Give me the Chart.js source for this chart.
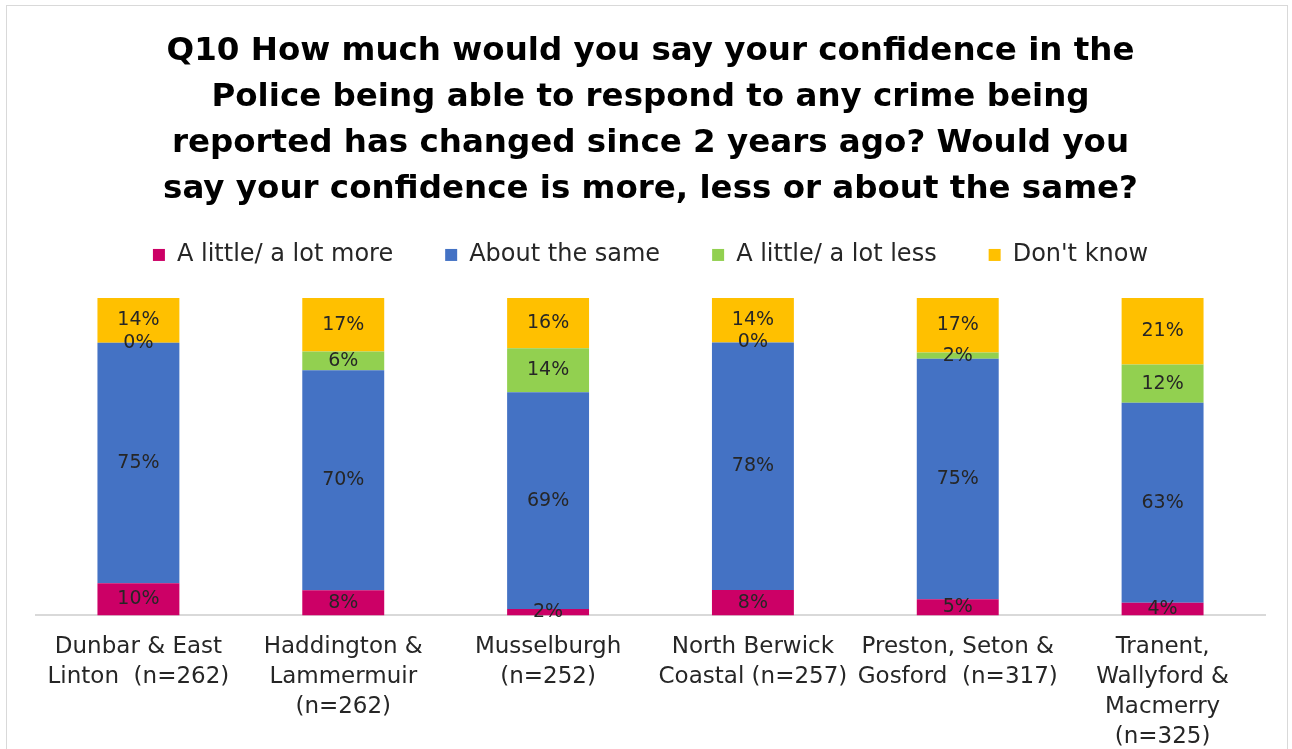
<!DOCTYPE html>
<html>
<head>
<meta charset="utf-8">
<script src="https://cdn.jsdelivr.net/npm/chart.js@4"></script>
<style>
  html, body { margin: 0; padding: 0; background: #fff; overflow: hidden; }
  #frame {
    position: absolute; left: 6px; top: 5px; width: 1282px; height: 800px;
    border: 1px solid #d9d9d9; box-sizing: border-box;
  }
  #wrap { position: absolute; left: 0; top: 0; width: 1280px; height: 798px; }
</style>
</head>
<body>
<div id="frame"><div id="wrap"><canvas id="chart"></canvas></div></div>
<script>
// Areas and sample sizes
const areas = [
    ['Dunbar & East', 'Linton  (n=262)'],
    ['Haddington &', 'Lammermuir', '(n=262)'],
    ['Musselburgh', '(n=252)'],
    ['North Berwick', 'Coastal (n=257)'],
    ['Preston, Seton &', 'Gosford  (n=317)'],
    ['Tranent,', 'Wallyford &', 'Macmerry', '(n=325)']
];

// Percentages per answer
const more     = [10, 8, 2, 8, 5, 4];
const same     = [75, 70, 69, 78, 75, 63];
const less     = [0, 6, 14, 0, 2, 12];
const dontKnow = [14, 17, 16, 14, 17, 21];

const seriesNames = ['A little/ a lot more', 'About the same', 'A little/ a lot less', "Don't know"];
const seriesColors = ['#CC0066', '#4472C4', '#92D050', '#FFC000'];

const titleLines = [
    'Q10 How much would you say your confidence in the',
    'Police being able to respond to any crime being',
    'reported has changed since 2 years ago? Would you',
    'say your confidence is more, less or about the same?'
];

// 100% stacked: scale each column to its own total
const raw = [more, same, less, dontKnow];
const totals = areas.map((a, i) => raw.reduce((s, arr) => s + arr[i], 0));

const datasets = raw.map((arr, k) => ({
    label: seriesNames[k],
    data: arr.map((v, i) => v / totals[i] * 100),
    rawValues: arr,
    backgroundColor: seriesColors[k],
    borderWidth: 0,
    barPercentage: 1,
    categoryPercentage: 0.4
}));

// Segment labels
const segmentLabels = {
    id: 'segmentLabels',
    afterDatasetsDraw(chart) {
        const ctx = chart.ctx;
        ctx.save();
        ctx.font = '19px "DejaVu Sans"';
        ctx.fillStyle = '#262626';
        ctx.textAlign = 'center';
        ctx.textBaseline = 'middle';
        chart.data.datasets.forEach((ds, k) => {
            chart.getDatasetMeta(k).data.forEach((bar, i) => {
                const p = bar.getCenterPoint();
                ctx.fillText(ds.rawValues[i] + '%', p.x, p.y);
            });
        });
        ctx.restore();
    }
};

// Extra room under the legend
const legendGap = {
    id: 'legendGap',
    beforeUpdate(chart) {
        const lg = chart.legend;
        if (lg && !lg._gapPatched) {
            const fit = lg.fit;
            lg.fit = function () { fit.call(this); this.height += 21; };
            lg._gapPatched = true;
        }
    }
};

new Chart(document.getElementById('chart'), {
    type: 'bar',
    data: { labels: areas, datasets: datasets },
    plugins: [segmentLabels, legendGap],
    options: {
        responsive: true,
        maintainAspectRatio: false,
        animation: false,
        layout: { padding: { left: 29, right: 22, top: 23, bottom: 43 } },
        scales: {
            x: {
                stacked: true,
                grid: { display: false },
                border: { display: true, color: '#d9d9d9', width: 2 },
                ticks: {
                    color: '#262626',
                    font: { family: 'DejaVu Sans', size: 23, lineHeight: 1.3 },
                    maxRotation: 0,
                    autoSkip: false,
                    padding: 9
                }
            },
            y: {
                stacked: true,
                display: false,
                min: 0,
                max: 100
            }
        },
        plugins: {
            title: {
                display: true,
                text: titleLines,
                color: '#000',
                font: { family: 'DejaVu Sans', size: 32.5, weight: 'bold', lineHeight: 1.415 },
                padding: { top: 0, bottom: -22 }
            },
            legend: {
                display: true,
                labels: {
                    color: '#262626',
                    font: { family: 'DejaVu Sans', size: 24 },
                    boxWidth: 12,
                    boxHeight: 12,
                    padding: 52
                }
            },
            tooltip: { enabled: false }
        }
    }
});
</script>
</body>
</html>
